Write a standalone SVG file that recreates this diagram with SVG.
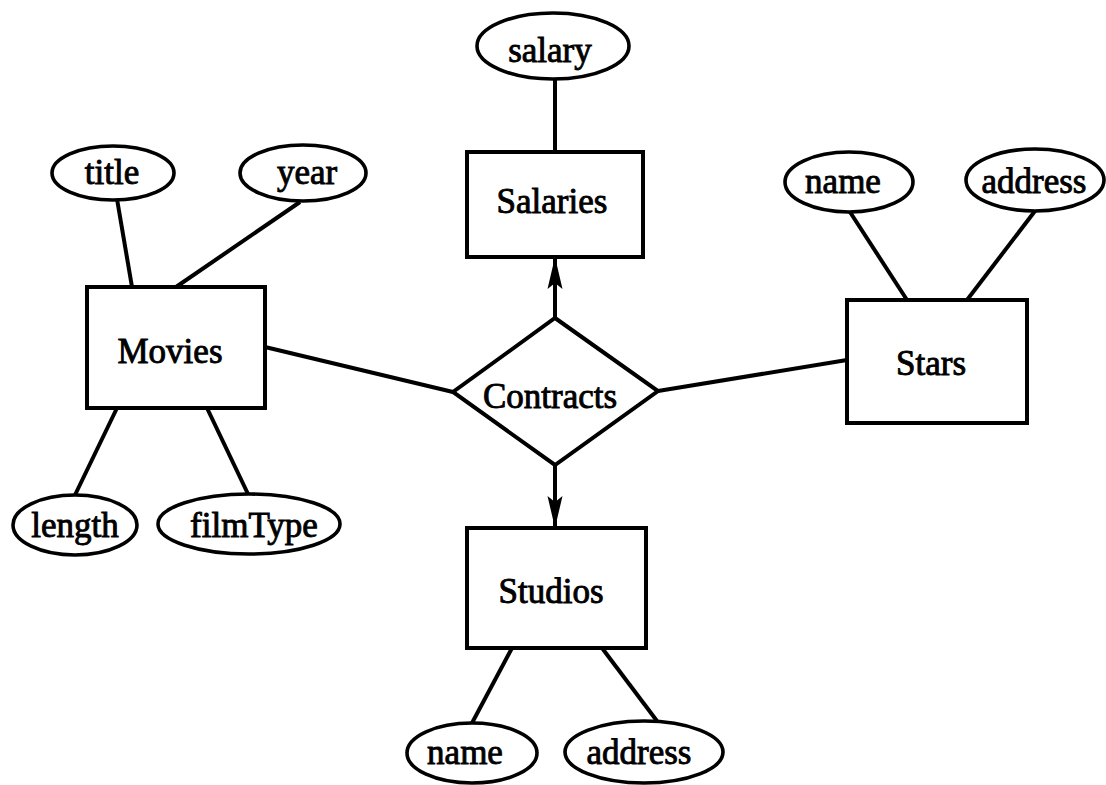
<svg xmlns="http://www.w3.org/2000/svg" width="1106" height="785" viewBox="0 0 1106 785">
  <style>
    .shape { fill: #ffffff; stroke: #000000; stroke-width: 4; }
    .attr { fill: #ffffff; stroke: #000000; stroke-width: 3.6; }
    .link { stroke: #000000; stroke-width: 4; fill: none; }
    .lbl { font-family: "Liberation Serif", "Times New Roman", serif; font-size: 35px; fill: #000000; stroke: #000000; stroke-width: 0.9; text-anchor: middle; }
  </style>
  <defs>
    <marker id="arrow" markerWidth="32" markerHeight="18" refX="32" refY="9" orient="auto" markerUnits="userSpaceOnUse">
      <path d="M0,1.5 L32,9 L0,16.5 L6,9 Z" fill="#000000"/>
    </marker>
  </defs>
  <rect width="1106" height="785" fill="#ffffff"/>

  <!-- connectors: attribute lines, relationship lines and arrows -->
  <g id="connectors">
    <line class="link" x1="555" y1="80" x2="555" y2="152"/>
    <line class="link" x1="117" y1="199" x2="132" y2="287"/>
    <line class="link" x1="300" y1="202" x2="176" y2="287"/>
    <line class="link" x1="117" y1="408" x2="75" y2="495"/>
    <line class="link" x1="207" y1="408" x2="248" y2="494"/>
    <line class="link" x1="850" y1="212" x2="907" y2="300"/>
    <line class="link" x1="1035" y1="211" x2="967" y2="300"/>
    <line class="link" x1="512" y1="648" x2="472" y2="723"/>
    <line class="link" x1="602" y1="648" x2="657" y2="721"/>
    <line class="link" x1="265" y1="347" x2="453" y2="392"/>
    <line class="link" x1="658" y1="391" x2="847" y2="360"/>
    <line class="link" x1="555" y1="318" x2="555" y2="257" marker-end="url(#arrow)"/>
    <line class="link" x1="555" y1="465" x2="555" y2="528" marker-end="url(#arrow)"/>
  </g>

  <!-- entity sets -->
  <g id="salaries">
    <rect class="shape" x="467" y="152" width="176" height="105"/>
    <text class="lbl" x="552" y="213">Salaries</text>
  </g>
  <g id="movies">
    <rect class="shape" x="87" y="287" width="178" height="121"/>
    <text class="lbl" x="170" y="363">Movies</text>
  </g>
  <g id="stars">
    <rect class="shape" x="847" y="300" width="180" height="123"/>
    <text class="lbl" x="931" y="375">Stars</text>
  </g>
  <g id="studios">
    <rect class="shape" x="467" y="528" width="179" height="120"/>
    <text class="lbl" x="551" y="603">Studios</text>
  </g>

  <!-- relationship -->
  <g id="contracts">
    <polygon class="shape" points="555,318 658,391 555,465 453,392"/>
    <text class="lbl" x="550" y="408">Contracts</text>
  </g>

  <!-- attributes -->
  <g id="attr-salary">
    <ellipse class="attr" cx="553" cy="46" rx="76" ry="33"/>
    <text class="lbl" x="550" y="62">salary</text>
  </g>
  <g id="attr-title">
    <ellipse class="attr" cx="113" cy="173" rx="61" ry="27"/>
    <text class="lbl" x="112" y="184">title</text>
  </g>
  <g id="attr-year">
    <ellipse class="attr" cx="303" cy="173" rx="63" ry="28"/>
    <text class="lbl" x="307" y="184">year</text>
  </g>
  <g id="attr-length">
    <ellipse class="attr" cx="75" cy="525" rx="62" ry="30"/>
    <text class="lbl" x="75" y="537">length</text>
  </g>
  <g id="attr-filmtype">
    <ellipse class="attr" cx="249" cy="524" rx="91" ry="30"/>
    <text class="lbl" x="254" y="537">filmType</text>
  </g>
  <g id="attr-star-name">
    <ellipse class="attr" cx="849" cy="182" rx="64" ry="30"/>
    <text class="lbl" x="843" y="193">name</text>
  </g>
  <g id="attr-star-address">
    <ellipse class="attr" cx="1035" cy="180" rx="69" ry="31"/>
    <text class="lbl" x="1034" y="193">address</text>
  </g>
  <g id="attr-studio-name">
    <ellipse class="attr" cx="472" cy="753" rx="65" ry="30"/>
    <text class="lbl" x="465" y="764">name</text>
  </g>
  <g id="attr-studio-address">
    <ellipse class="attr" cx="644" cy="752" rx="79" ry="31"/>
    <text class="lbl" x="639" y="764">address</text>
  </g>
</svg>
